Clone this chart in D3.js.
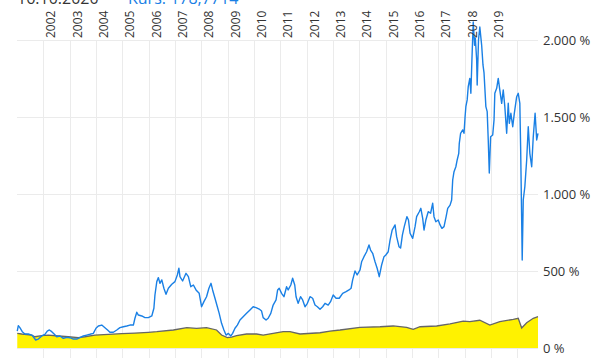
<!DOCTYPE html>
<html><head><meta charset="utf-8">
<script src="https://cdn.jsdelivr.net/npm/d3@7"></script>
<style>
html,body{margin:0;padding:0;background:#fff;}
svg{display:block;font-family:"Open Sans",sans-serif;}
</style></head>
<body><svg id="c" width="594" height="358"></svg>
<script>
// Dates as decimal years
const stockT = [2001.01,2001.05,2001.11,2001.20,2001.30,2001.43,2001.56,2001.62,2001.71,2001.81,2001.94,
2002.06,2002.15,2002.23,2002.32,2002.42,2002.51,2002.63,2002.76,2002.89,
2003.01,2003.14,2003.27,2003.39,2003.52,2003.65,2003.77,2003.90,
2004.00,2004.09,2004.22,2004.34,2004.44,2004.53,2004.66,2004.79,2004.91,
2005.04,2005.17,2005.29,2005.42,2005.48,2005.55,2005.61,2005.74,2005.86,2005.99,
2006.12,2006.20,2006.24,2006.31,2006.37,2006.43,2006.50,2006.58,2006.66,2006.75,2006.88,
2007.00,2007.09,2007.15,2007.19,2007.29,2007.42,2007.51,2007.60,2007.70,2007.80,2007.92,
2008.01,2008.10,2008.20,2008.29,2008.37,2008.43,2008.52,2008.61,2008.68,2008.77,2008.86,2008.94,
2009.03,2009.12,2009.19,2009.28,2009.37,2009.47,2009.59,2009.72,2009.85,2009.97,
2010.08,2010.20,2010.29,2010.35,2010.46,2010.54,2010.64,2010.73,2010.84,2010.90,2010.96,
2011.05,2011.14,2011.24,2011.30,2011.40,2011.47,2011.55,2011.60,2011.68,2011.77,2011.85,2011.94,
2012.03,2012.13,2012.23,2012.32,2012.41,2012.51,2012.61,2012.70,2012.82,2012.91,
2013.01,2013.12,2013.24,2013.37,2013.50,2013.61,2013.69,2013.75,2013.84,2013.92,
2014.03,2014.09,2014.18,2014.28,2014.37,2014.43,2014.51,2014.60,2014.68,2014.76,2014.85,2014.94,
2015.01,2015.10,2015.17,2015.25,2015.36,2015.42,2015.51,2015.57,2015.64,2015.71,2015.81,2015.87,2015.93,
2016.03,2016.12,2016.18,2016.28,2016.34,2016.41,2016.46,2016.53,2016.62,2016.71,2016.79,2016.84,2016.91,
2017.00,2017.07,2017.14,2017.22,2017.30,2017.36,2017.45,2017.51,2017.55,2017.60,2017.67,2017.72,2017.78,2017.80,2017.85,2017.93,2017.98,
2018.02,2018.05,2018.10,2018.14,2018.20,2018.24,2018.28,2018.33,2018.38,2018.41,2018.46,2018.48,2018.53,2018.58,2018.65,2018.70,2018.74,2018.81,2018.86,2018.90,2018.94,2018.99,
2019.07,2019.12,2019.15,2019.22,2019.28,2019.34,2019.41,2019.47,2019.53,2019.60,2019.66,2019.70,2019.76,2019.83,2019.89,2019.98,
2020.04,2020.10,2020.13,2020.17,2020.19,2020.23,2020.29,2020.36,2020.42,2020.48,2020.55,2020.61,2020.68,2020.74,2020.79];
// Performance of the share in %
const stockV = [110,145,132,106,91,91,84,73,52,58,78,
89,110,117,106,89,73,78,63,69,
67,58,58,67,78,84,89,95,
128,143,149,132,117,102,102,117,132,
138,143,149,149,193,232,214,208,197,197,
208,258,344,431,457,420,442,388,349,388,414,
431,474,518,463,435,485,463,398,409,377,355,
268,301,333,388,420,377,323,268,225,160,117,84,
95,78,95,128,149,182,203,225,247,268,
262,253,240,197,182,193,225,279,312,377,388,
355,333,398,377,409,453,409,333,290,333,312,268,
290,333,323,279,268,251,268,290,279,301,
344,323,323,355,366,377,388,442,500,474,
507,560,593,625,669,636,615,560,518,463,539,593,
604,625,701,766,799,723,658,649,734,788,853,831,745,
712,788,853,885,907,842,766,831,885,875,940,853,820,
831,799,777,788,853,907,928,961,1091,1145,1177,1221,1264,1329,1394,1416,1394,
1502,1567,1611,1697,1751,1654,1870,2117,1966,2013,1870,1708,2000,2084,1966,1838,1786,1567,1535,1351,1136,1372,
1383,1481,1654,1686,1751,1675,1589,1675,1567,1394,1589,1459,1524,1437,1524,1632,
1654,1589,1307,831,571,961,1047,1221,1437,1264,1177,1372,1524,1351,1394];

const benchT = [2001.01,2001.18,2001.56,2001.68,2001.94,2002.19,2002.57,2002.95,2003.33,2003.58,2003.96,
2004.47,2004.98,2005.48,2005.99,2006.31,2006.94,2007.45,2007.82,2008.20,2008.58,2008.77,2008.99,
2009.15,2009.34,2009.72,2010.10,2010.35,2010.73,2011.11,2011.37,2011.75,2012.51,2012.89,2013.27,
2014.03,2014.79,2015.29,2015.80,2016.05,2016.31,2016.94,2017.45,2017.95,2018.20,2018.58,2018.96,
2019.34,2019.85,2020.04,2020.17,2020.36,2020.61,2020.79];
// Benchmark performance in %
const benchV = [95,91,84,73,80,84,78,73,67,73,84,
89,93,97,102,106,117,132,128,132,117,84,67,
71,80,91,91,84,95,106,106,91,99,110,117,
134,138,143,134,121,138,143,156,175,171,180,149,
171,186,193,130,164,193,203];

const yTicks = [0,500,1000,1500,2000];
const yTickLabels = ["0 %","500 %","1.000 %","1.500 %","2.000 %"];
const xYears = d3.range(2002,2021);
const xLabelYears = d3.range(2002,2020);
const titleDate = "16.10.2020";
const titleKurs = "Kurs: 178,7714";

const svg = d3.select("#c");
const x = d3.scaleLinear().domain([2001.0,2020.79]).range([17,538]);
const y = d3.scaleLinear().domain([0,2000]).range([348,40]);

const grid = svg.append("g");
grid.selectAll("line.h").data(yTicks).join("line")
  .attr("x1",17).attr("x2",538)
  .attr("y1",d=>Math.round(y(d))+0.5).attr("y2",d=>Math.round(y(d))+0.5)
  .attr("stroke","#ebebeb").attr("stroke-width",1);
grid.selectAll("line.v").data(xYears).join("line")
  .attr("x1",d=>Math.round(x(d))+0.5).attr("x2",d=>Math.round(x(d))+0.5)
  .attr("y1",40).attr("y2",358)
  .attr("stroke","#ebebeb").attr("stroke-width",1);

const bench = benchT.map((t,i)=>[t,benchV[i]]);
const stock = stockT.map((t,i)=>[t,stockV[i]]);

svg.append("path").datum(bench)
  .attr("d",d3.area().x(d=>x(d[0])).y0(y(0)).y1(d=>y(d[1])))
  .attr("fill","#fff200");
svg.append("path").datum(bench)
  .attr("d",d3.line().x(d=>x(d[0])).y(d=>y(d[1])))
  .attr("fill","none").attr("stroke","#666").attr("stroke-width",1.3);
svg.append("path").datum(stock)
  .attr("d",d3.line().x(d=>x(d[0])).y(d=>y(d[1])))
  .attr("fill","none").attr("stroke","#1a80e5").attr("stroke-width",1.4)
  .attr("stroke-linejoin","round");

svg.append("g").selectAll("text").data(yTicks).join("text")
  .attr("x",543).attr("y",d=>y(d)).attr("dy","0.35em")
  .attr("font-size",13).attr("fill","#333")
  .text((d,i)=>yTickLabels[i]);

svg.append("g").selectAll("text").data(xLabelYears).join("text")
  .attr("transform",d=>`translate(${Math.round(x(d))+12},38) rotate(-90)`)
  .attr("font-size",12).attr("fill","#333")
  .text(d=>d);

svg.append("text").attr("x",17).attr("y",3.5).attr("font-size",16).attr("fill","#333").text(titleDate);
svg.append("text").attr("x",128).attr("y",3.5).attr("font-size",16).attr("fill","#1a80e5").text(titleKurs);
</script></body></html>
